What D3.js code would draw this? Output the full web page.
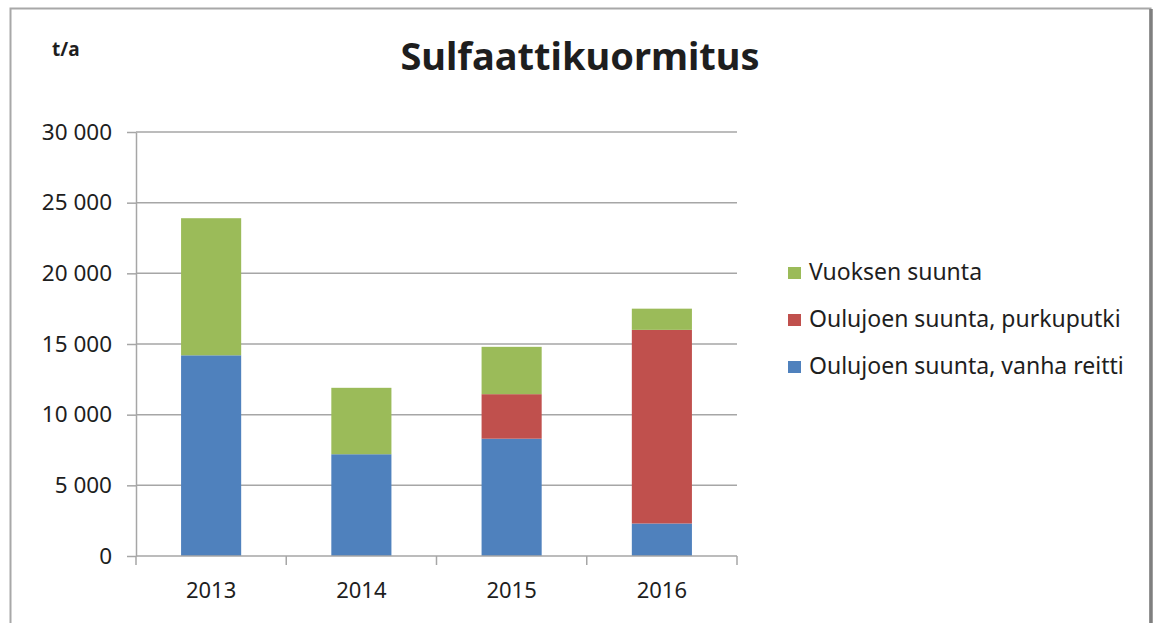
<!DOCTYPE html>
<html>
<head>
<meta charset="utf-8">
<script src="https://cdn.jsdelivr.net/npm/d3@7"></script>
<style>
  body { margin: 0; background: #fff; }
  svg text { font-family: "Noto Sans", "Open Sans", sans-serif; fill: #1e1e1e; }
  .grid line { stroke: #a6a6a6; stroke-width: 1.5; }
  .axis path, .axis line { stroke: #a6a6a6; stroke-width: 1.5; }
</style>
</head>
<body>
<div id="chart"></div>
<script>
// data (t/a)
const years = ["2013", "2014", "2015", "2016"];
const vanhaReitti = [14200, 7200, 8300, 2300];   // Oulujoen suunta, vanha reitti
const purkuputki = [0, 0, 3150, 13700];           // Oulujoen suunta, purkuputki
const vuoksen = [9700, 4700, 3350, 1500];         // Vuoksen suunta
const yTicks = [0, 5000, 10000, 15000, 20000, 25000, 30000];

const seriesKeys = ["vanha", "purku", "vuoksi"];
const seriesNames = {
    vanha: "Oulujoen suunta, vanha reitti",
    purku: "Oulujoen suunta, purkuputki",
    vuoksi: "Vuoksen suunta"
};
const colors = { vanha: "#4f81bd", purku: "#c0504d", vuoksi: "#9bbb59" };

const rows = years.map((y, i) => ({
    year: y, vanha: vanhaReitti[i], purku: purkuputki[i], vuoksi: vuoksen[i]
}));

const W = 1160, H = 623;
const plot = { left: 136, right: 737, top: 132, bottom: 556 };

const svg = d3.select("#chart").append("svg")
    .attr("width", W)
    .attr("height", H);

// outer frame
svg.append("rect")
    .attr("x", 10.5).attr("y", 8.5)
    .attr("width", 1140).attr("height", 640)
    .attr("fill", "#fff")
    .attr("stroke", "#a8a8a8")
    .attr("stroke-width", 2);
svg.append("line")
    .attr("x1", 1151).attr("x2", 1151)
    .attr("y1", 9).attr("y2", H)
    .attr("stroke", "#7f7f7f")
    .attr("stroke-width", 3.5);

const x = d3.scaleBand()
    .domain(years)
    .range([plot.left, plot.right])
    .paddingInner(0.6)
    .paddingOuter(0.3);

const y = d3.scaleLinear()
    .domain([0, 30000])
    .range([plot.bottom, plot.top]);

// gridlines
svg.append("g")
    .attr("class", "grid")
    .selectAll("line")
    .data(yTicks.filter(d => d > 0))
    .enter()
    .append("line")
    .attr("x1", plot.left)
    .attr("x2", plot.right)
    .attr("y1", d => y(d))
    .attr("y2", d => y(d));

const fmt = d => d3.format(",")(d).replace(/,/g, " ");

// y axis
const yAxis = svg.append("g")
    .attr("class", "axis")
    .attr("transform", `translate(${plot.left},0)`)
    .call(d3.axisLeft(y).tickValues(yTicks).tickFormat(fmt).tickSizeInner(9).tickSizeOuter(0).tickPadding(15));
yAxis.selectAll("text")
    .style("font-size", "22.5px")
    .attr("fill", "#262626");

// stacked bars
const stacked = d3.stack().keys(seriesKeys)(rows);

svg.append("g")
    .selectAll("g")
    .data(stacked)
    .enter()
    .append("g")
    .attr("fill", d => colors[d.key])
    .selectAll("rect")
    .data(d => d)
    .enter()
    .append("rect")
    .attr("x", d => x(d.data.year))
    .attr("y", d => y(d[1]))
    .attr("width", x.bandwidth())
    .attr("height", d => y(d[0]) - y(d[1]));

// x axis (ticks between categories, like Excel)
const xAxis = svg.append("g")
    .attr("class", "axis")
    .attr("transform", `translate(0,${plot.bottom})`)
    .call(d3.axisBottom(x).tickSize(0).tickPadding(26));
xAxis.select(".domain").attr("d", `M${plot.left},0H${plot.right}`);
xAxis.selectAll("text")
    .style("font-size", "22px")
    .attr("fill", "#262626");
const step = x.step();
xAxis.selectAll(".sep")
    .data(d3.range(years.length + 1))
    .enter()
    .append("line")
    .attr("class", "sep")
    .attr("x1", i => plot.left + i * step)
    .attr("x2", i => plot.left + i * step)
    .attr("y1", 0)
    .attr("y2", 9);

// title and unit
svg.append("text")
    .attr("x", 580)
    .attr("y", 70)
    .attr("text-anchor", "middle")
    .style("font-size", "38px")
    .style("font-weight", "bold")
    .attr("fill", "#000")
    .text("Sulfaattikuormitus");

svg.append("text")
    .attr("x", 52)
    .attr("y", 56)
    .style("font-size", "19px")
    .style("font-weight", "bold")
    .text("t/a");

// legend (top series first)
const legendOrder = ["vuoksi", "purku", "vanha"];
const legend = svg.append("g")
    .selectAll("g")
    .data(legendOrder)
    .enter()
    .append("g")
    .attr("transform", (d, i) => `translate(788, ${267 + i * 47})`);
legend.append("rect")
    .attr("width", 13)
    .attr("height", 12)
    .attr("fill", d => colors[d]);
legend.append("text")
    .attr("x", 21)
    .attr("y", 13)
    .style("font-size", "23px")
    .text(d => seriesNames[d]);
</script>
</body>
</html>
